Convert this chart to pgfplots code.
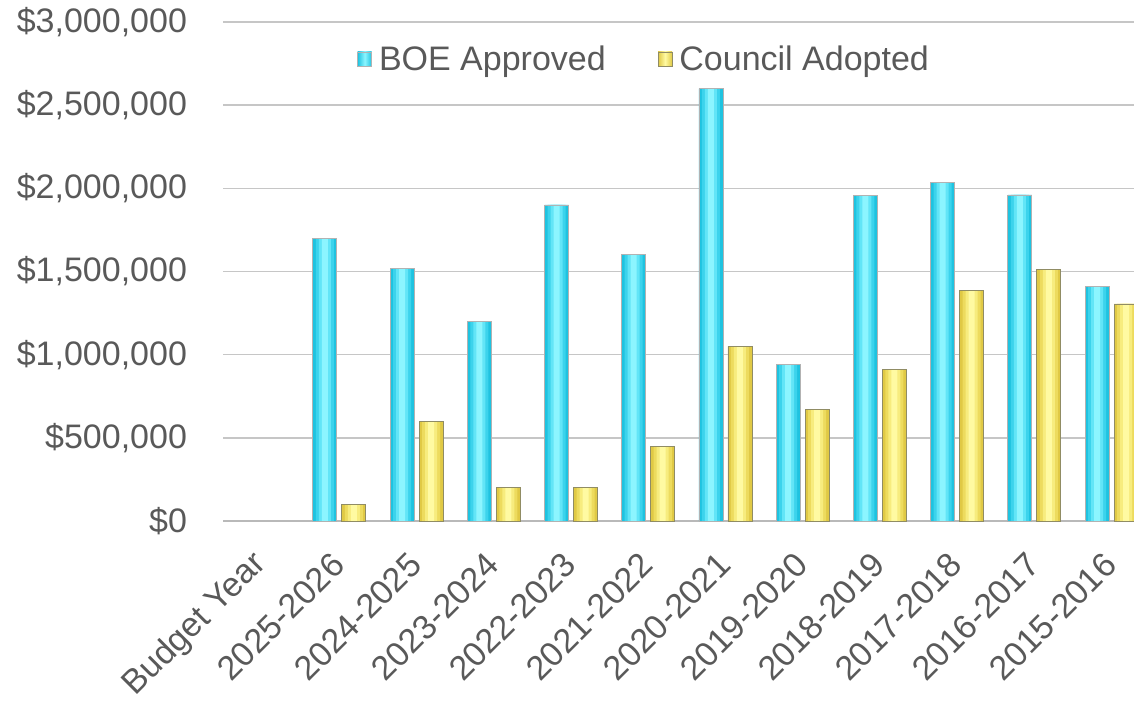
\documentclass[border=0pt]{standalone}
\usepackage{fontspec}
\setmainfont{Liberation Sans}
\usepackage{pgfplots}
\usepackage{pgfplotstable}
\pgfplotsset{compat=1.18}

\definecolor{txt}{HTML}{595959}
\definecolor{boe1}{HTML}{1FC3E0}
\definecolor{boe2}{HTML}{3CD3EC}
\definecolor{boe3}{HTML}{62E5F7}
\definecolor{boe4}{HTML}{8CF5FF}
\definecolor{cal1}{HTML}{E0C945}
\definecolor{cal2}{HTML}{EDDB5E}
\definecolor{cal3}{HTML}{F7EC7E}
\definecolor{cal4}{HTML}{FFFAA2}
\definecolor{gridc}{HTML}{C6C6C6}

% x: 1 = 2025-2026 ... 11 = 2015-2016 (0 = "Budget Year", no data)
\pgfplotstableread{
x  boe      cal
1  1700000  100000
2  1520000  600000
3  1200000  200000
4  1900000  200000
5  1600000  450000
6  2600000  1050000
7  940000   670000
8  1955000  910000
9  2035000  1385000
10 1960000  1510000
11 1410000  1305000
}\budget

\pgfplotsset{
  layer/.style={draw=none, forget plot},
}

\begin{document}
\begin{tikzpicture}
\begin{axis}[
    name=ax,
    scale only axis,
    width=910.5pt, height=499pt,
    xmin=-0.5, xmax=11.29,
    ymin=0, ymax=3000000,
    ybar, bar width=24pt,
    xtick={0,...,11},
    xticklabels={Budget Year,2025-2026,2024-2025,2023-2024,2022-2023,2021-2022,2020-2021,2019-2020,2018-2019,2017-2018,2016-2017,2015-2016},
    ytick={0,500000,1000000,1500000,2000000,2500000,3000000},
    yticklabels={{\$0},{\$500,000},{\$1,000,000},{\$1,500,000},{\$2,000,000},{\$2,500,000},{\$3,000,000}},
    scaled y ticks=false,
    ymajorgrids,
    grid style={gridc, line width=1.6pt},
    axis x line*=bottom, axis y line*=left,
    x axis line style={-, draw=gray!55, line width=2.4pt},
    y axis line style={draw=none},
    major tick length=0pt,
    tick label style={font=\fontsize{34}{40}\selectfont, text=txt},
    yticklabel style={xshift=-33pt},
    xticklabel style={xshift=-1pt, yshift=-38pt, rotate=45, anchor=east, inner sep=0pt},
    legend style={at={(0.462,0.926)}, anchor=center, draw=none, fill=none,
        font=\fontsize{34}{40}\selectfont, text=txt,
        legend columns=2,
        /tikz/every odd column/.append style={column sep=5pt},
        /tikz/every even column/.append style={column sep=50pt}},
]
% BOE Approved: layered bars for the rounded shading
\addplot[bar shift=-14.5pt, bar width=24pt, fill=boe1, draw=gray!60, line width=0.8pt,
    legend image code/.code={\draw[left color=boe1, right color=boe1, middle color=boe4, draw=gray!60, line width=0.6pt] (0pt,-7pt) rectangle (14pt,7pt);}]
  table[x=x, y=boe] {\budget};
\addplot[bar shift=-14.5pt, bar width=18pt, fill=boe2, layer] table[x=x, y=boe] {\budget};
\addplot[bar shift=-14.5pt, bar width=12pt, fill=boe3, layer] table[x=x, y=boe] {\budget};
\addplot[bar shift=-14.5pt, bar width=6pt, fill=boe4, layer] table[x=x, y=boe] {\budget};
\addplot[bar shift=-14.5pt, bar width=24pt, fill=none, draw=gray!60, line width=0.8pt, forget plot] table[x=x, y=boe] {\budget};
% Council Adopted
\addplot[bar shift=14.5pt, bar width=24pt, fill=cal1, draw=gray!70!olive, line width=0.8pt,
    legend image code/.code={\draw[left color=cal1, right color=cal1, middle color=cal4, draw=gray!70!olive, line width=0.6pt] (0pt,-7pt) rectangle (14pt,7pt);}]
  table[x=x, y=cal] {\budget};
\addplot[bar shift=14.5pt, bar width=18pt, fill=cal2, layer] table[x=x, y=cal] {\budget};
\addplot[bar shift=14.5pt, bar width=12pt, fill=cal3, layer] table[x=x, y=cal] {\budget};
\addplot[bar shift=14.5pt, bar width=6pt, fill=cal4, layer] table[x=x, y=cal] {\budget};
\addplot[bar shift=14.5pt, bar width=24pt, fill=none, draw=gray!70!olive, line width=0.8pt, forget plot] table[x=x, y=cal] {\budget};
\legend{BOE Approved, Council Adopted}
\end{axis}
\pgfresetboundingbox
\path ([xshift=-223.5pt, yshift=-180pt]ax.south west) rectangle ([yshift=22pt]ax.north east);
\end{tikzpicture}
\end{document}
